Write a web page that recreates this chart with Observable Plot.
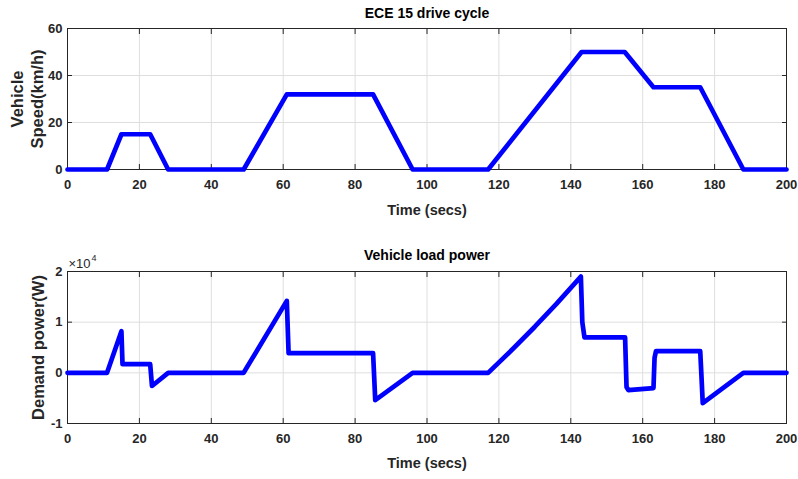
<!DOCTYPE html>
<html><head><meta charset="utf-8">
<script src="https://cdn.jsdelivr.net/npm/d3@7"></script>
<script src="https://cdn.jsdelivr.net/npm/@observablehq/plot@0.6"></script>
<style>
body{margin:0;background:#fff;}
#c{width:798px;height:479px;overflow:hidden;}
#c svg{display:block;}
</style></head><body><div id="c"></div>
<script>
// ---- data ----
const speedTime = [0, 11, 15, 23, 28, 49, 61, 85, 96, 117, 143, 155, 163, 176, 188, 200];
const speedKmh  = [0, 0, 15, 15, 0, 0, 32, 32, 0, 0, 50, 50, 35, 35, 0, 0];

const powerTime = [0, 11, 15, 15.3, 23, 23.5, 28, 49, 61, 61.5, 85, 85.6, 96, 117, 124, 130, 136, 142.8, 143.2, 143.8, 155.1, 155.5, 156, 163, 163.3, 163.7, 176, 176.3, 176.7, 188, 200];
const powerW    = [0, 0, 8200, 1700, 1700, -2600, 0, 0, 14200, 3900, 3900, -5400, 0, 0, 4800, 9100, 13600, 19000, 10000, 7000, 7000, -2800, -3400, -3000, 3000, 4300, 4300, 0, -6000, 0, 0];

const xTicks = [0, 20, 40, 60, 80, 100, 120, 140, 160, 180, 200];
const speedTicks = [0, 20, 40, 60];
const powerTicks = [-1, 0, 1, 2]; // in units of 10^4 W
const titles = ["ECE 15 drive cycle", "Vehicle load power"];
const xLabel = "Time (secs)";
const speedLabelLines = ["Vehicle", "Speed(km/h)"];
const powerLabel = "Demand power(W)";
const exponentBase = "×10";
const exponentPower = "4";

// ---- styling ----
const FONT = "'Liberation Sans', Arial, Helvetica, sans-serif";
const TICK_COLOR = "#262626";
const GRID = "#dedede";
const LINE = "#0000ff";

const speedData = speedTime.map((t, i) => ({t, v: speedKmh[i]}));
const powerData = powerTime.map((t, i) => ({t, p: powerW[i] / 1e4}));

function frameMarks(yTicks) {
  const txt = {fontSize: 13, fontWeight: "bold", fill: TICK_COLOR, label: null};
  return [
    Plot.gridX(xTicks, {stroke: GRID, strokeOpacity: 1, strokeWidth: 1}),
    Plot.gridY(yTicks, {stroke: GRID, strokeOpacity: 1, strokeWidth: 1}),
    Plot.axisX(xTicks, {...txt, anchor: "bottom", tickSize: 0, tickPadding: 10}),
    Plot.axisY(yTicks, {...txt, anchor: "left", tickSize: 0, tickPadding: 5, tickFormat: d => String(d)}),
    Plot.axisX(xTicks, {anchor: "bottom", tickSize: -5, fill: "none", stroke: TICK_COLOR, label: null}),
    Plot.axisX(xTicks, {anchor: "top", tickSize: -5, fill: "none", stroke: TICK_COLOR, label: null}),
    Plot.axisY(yTicks, {anchor: "left", tickSize: -5, fill: "none", stroke: TICK_COLOR, label: null}),
    Plot.axisY(yTicks, {anchor: "right", tickSize: -5, fill: "none", stroke: TICK_COLOR, label: null}),
    Plot.frame({stroke: TICK_COLOR, strokeWidth: 1})
  ];
}

const labelStyle = {fontSize: 14.5, fontWeight: "bold", fill: "#262626", fontFamily: FONT, lineAnchor: "middle"};
const titleStyle = {fontSize: 14, fontWeight: "bold", fill: "#000", fontFamily: FONT, frameAnchor: "top", lineAnchor: "middle"};
const yLabelStyle = {...labelStyle, fontSize: 16.5, frameAnchor: "left", rotate: -90, textAnchor: "middle"};

const speedChart = Plot.plot({
  width: 798, height: 240,
  marginLeft: 67, marginRight: 12, marginTop: 28, marginBottom: 71,
  style: {fontFamily: FONT, background: "#fff", overflow: "visible"},
  x: {domain: [0, 200]},
  y: {domain: [0, 60]},
  marks: [
    ...frameMarks(speedTicks),
    Plot.line(speedData, {x: "t", y: "v", stroke: LINE, strokeWidth: 4.7, strokeLinejoin: "round", strokeLinecap: "round"}),
    Plot.text([titles[0]], {text: d => d, dy: -15, ...titleStyle}),
    Plot.text([xLabel], {text: d => d, frameAnchor: "bottom", dy: 41, ...labelStyle}),
    Plot.text([speedLabelLines[0]], {text: d => d, dx: -49.5, ...yLabelStyle}),
    Plot.text([speedLabelLines[1]], {text: d => d, dx: -30, ...yLabelStyle})
  ]
});

const powerChart = Plot.plot({
  width: 798, height: 239,
  marginLeft: 67, marginRight: 12, marginTop: 31, marginBottom: 56,
  style: {fontFamily: FONT, background: "#fff", overflow: "visible"},
  x: {domain: [0, 200]},
  y: {domain: [-1, 2]},
  marks: [
    ...frameMarks(powerTicks),
    Plot.line(powerData, {x: "t", y: "p", stroke: LINE, strokeWidth: 4.7, strokeLinejoin: "round", strokeLinecap: "round"}),
    Plot.text([titles[1]], {text: d => d, dy: -16, ...titleStyle}),
    Plot.text([xLabel], {text: d => d, frameAnchor: "bottom", dy: 40, ...labelStyle}),
    Plot.text([powerLabel], {text: d => d, dx: -28.5, ...yLabelStyle}),
    Plot.text([exponentBase], {text: d => d, frameAnchor: "top-left", lineAnchor: "middle", dx: 1, dy: -8, textAnchor: "start", fontSize: 13, fill: TICK_COLOR, fontFamily: FONT}),
    Plot.text([exponentPower], {text: d => d, frameAnchor: "top-left", lineAnchor: "middle", dx: 24, dy: -13, textAnchor: "start", fontSize: 9, fill: TICK_COLOR, fontFamily: FONT})
  ]
});

document.getElementById("c").append(speedChart, powerChart);
</script>
</body></html>
